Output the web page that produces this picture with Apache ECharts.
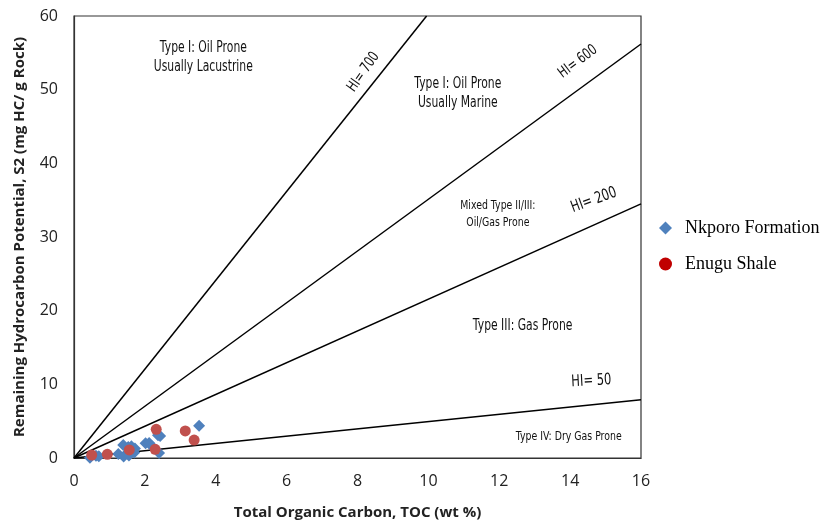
<!DOCTYPE html>
<html><head><meta charset="utf-8">
<script src="https://cdn.jsdelivr.net/npm/echarts@6/dist/echarts.min.js"></script>
<style>html,body{margin:0;padding:0;background:#fff}#c{width:827px;height:521px}</style>
</head><body><div id="c"></div>
<script>
// Data (TOC wt%, S2 mg HC/g rock)
const nkporoTOC = [3.53, 2.43, 2.37, 2.40, 2.02, 2.12, 2.20, 1.39, 1.53, 1.62, 1.72, 1.25, 1.40, 1.55, 1.70, 0.45, 0.62, 0.70];
const nkporoS2  = [4.39, 2.99, 3.10, 0.68, 2.00, 2.05, 1.60, 1.76, 1.50, 1.60, 1.30, 0.55, 0.20, 0.35, 0.75, 0.05, 0.30, 0.25];
const enuguTOC = [3.14, 3.39, 2.32, 2.29, 1.56, 0.94, 0.50];
const enuguS2  = [3.67, 2.44, 3.90, 1.18, 1.09, 0.50, 0.40];
// HI reference lines: end points
const hiNames = ['HI= 700', 'HI= 600', 'HI= 200', 'HI= 50'];
const hiEndTOC = [9.95, 16, 16, 16];
const hiEndS2  = [60, 56.2, 34.5, 7.9];
// Zone / line annotations (anchored at data coordinates)
const annTexts = ['Type I: Oil Prone\nUsually Lacustrine', 'HI= 700', 'Type I: Oil Prone\nUsually Marine', 'HI= 600',
  'Mixed Type II/III:\nOil/Gas Prone', 'HI= 200', 'Type III: Gas Prone', 'HI= 50', 'Type IV: Dry Gas Prone'];
const annTOC = [3.65, 8.17, 10.83, 14.22, 11.96, 14.67, 12.66, 14.6, 13.96];
const annS2  = [54.3, 52.4, 49.5, 53.8, 33.1, 35.0, 17.9, 10.45, 2.85];
const annRot = [0, 55, 0, 37, 0, 20, 0, 3, 0];
const annSize = [15, 15, 15, 15, 13, 16, 15, 16, 13];

const chart = echarts.init(document.getElementById('c'));
const series = [];
hiNames.forEach((n, i) => {
  series.push({ type: 'line', name: n, data: [[0, 0], [hiEndTOC[i], hiEndS2[i]]], symbol: 'none',
    lineStyle: { color: '#000', width: 1.5 }, silent: true, z: 2 });
});
series.push({ type: 'scatter', name: 'Nkporo Formation', data: nkporoTOC.map((x, i) => [x, nkporoS2[i]]),
  symbol: 'diamond', symbolSize: 12, itemStyle: { color: '#4F81BD', opacity: 1 }, z: 4 });
series.push({ type: 'scatter', name: 'Enugu Shale', data: enuguTOC.map((x, i) => [x, enuguS2[i]]),
  symbol: 'circle', symbolSize: 11, itemStyle: { color: '#C0504D', opacity: 1 }, z: 5 });

chart.setOption({
  animation: false,
  backgroundColor: '#fff',
  grid: { left: 74, right: 186, top: 16, bottom: 63, outerBoundsMode: 'none', containLabel: false,
    show: true, borderColor: '#333', borderWidth: 1.2, backgroundColor: 'transparent' },
  xAxis: { type: 'value', min: 0, max: 16, interval: 2, name: 'Total Organic Carbon, TOC (wt %)', nameLocation: 'middle', nameGap: 47,
    nameTextStyle: { fontSize: 15, fontWeight: 'bold', color: '#222', fontFamily: 'Open Sans, sans-serif' },
    axisLine: { lineStyle: { color: '#333', width: 1.2 } }, axisTick: { show: false }, splitLine: { show: false },
    axisLabel: { fontSize: 16, color: '#222', margin: 15, fontFamily: 'Open Sans, sans-serif' } },
  yAxis: { type: 'value', min: 0, max: 60, interval: 10, name: 'Remaining Hydrocarbon Potential, S2 (mg HC/ g Rock)', nameLocation: 'middle', nameGap: 47,
    nameTextStyle: { fontSize: 15, fontWeight: 'bold', color: '#222', fontFamily: 'Open Sans, sans-serif' },
    axisLine: { show: true, lineStyle: { color: '#333', width: 1.2 } }, axisTick: { show: false }, splitLine: { show: false },
    axisLabel: { fontSize: 16, color: '#222', margin: 16, fontFamily: 'Open Sans, sans-serif' } },
  legend: { data: [{ name: 'Nkporo Formation', itemStyle: { color: '#4F81BD' } }, { name: 'Enugu Shale', itemStyle: { color: '#C00000' } }],
    orient: 'vertical', left: 654, top: 214, itemGap: 18,
    itemWidth: 13, itemHeight: 13,
    textStyle: { fontSize: 18, color: '#000', fontFamily: '"Liberation Serif","Times New Roman",serif', padding: [0, 0, 0, 8] } },
  series
});

// Condensed-looking annotation text placed from data coordinates
const graphics = annTexts.map((t, i) => {
  const p = chart.convertToPixel({ gridIndex: 0 }, [annTOC[i], annS2[i]]);
  return { type: 'text', x: p[0], y: p[1], rotation: annRot[i] * Math.PI / 180, scaleX: 0.72, scaleY: 1, z: 10, silent: true,
    style: { text: t, fontSize: annSize[i], fontFamily: '"DejaVu Sans", sans-serif', fill: '#111',
      align: 'center', verticalAlign: 'middle', lineHeight: annSize[i] + 4 } };
});
chart.setOption({ graphic: graphics });
</script></body></html>
